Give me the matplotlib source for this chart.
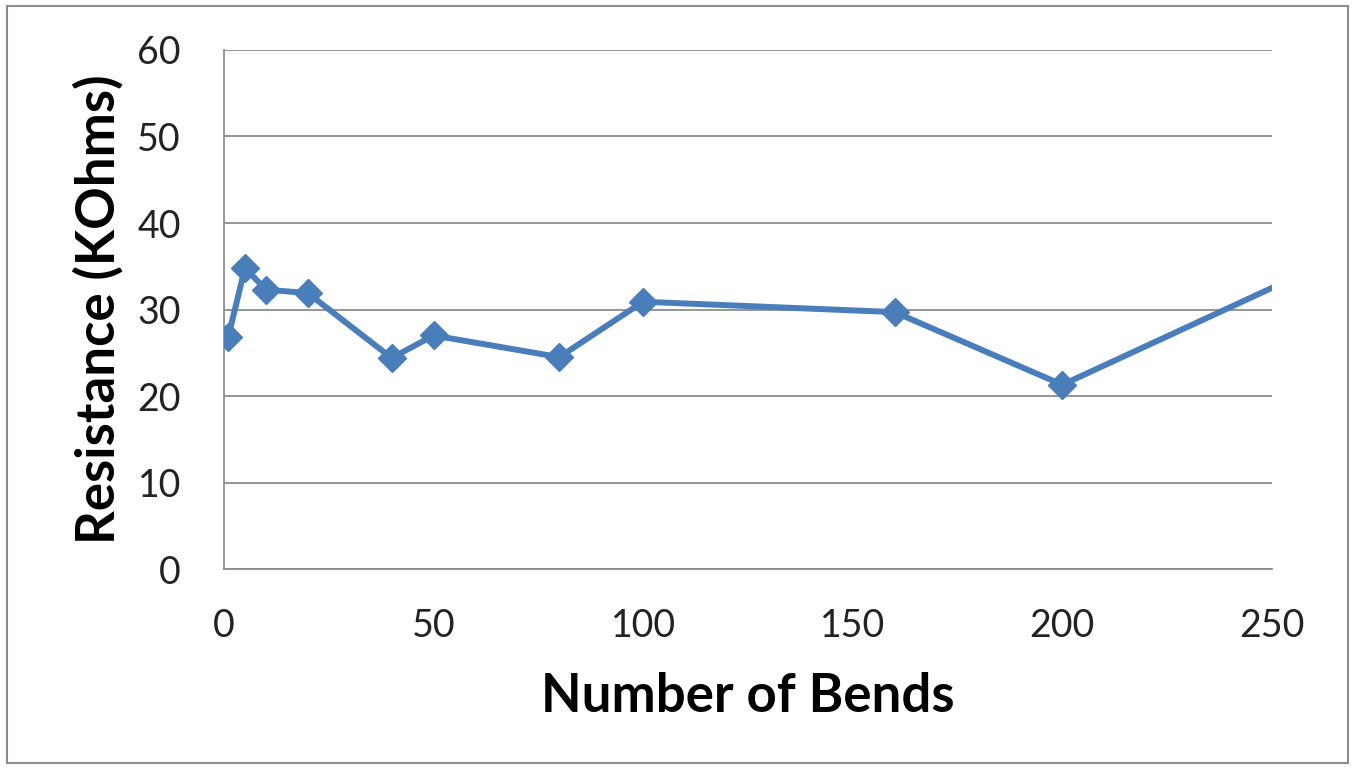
import matplotlib.pyplot as plt
from matplotlib.patches import Rectangle

# bends vs resistance, last point sits past the axis edge (only the line shows)
bends = [1, 5, 10, 20, 40, 50, 80, 100, 160, 200, 300]
resistanceKOhms = [26.8, 34.8, 32.3, 31.9, 24.4, 27.0, 24.5, 30.9, 29.7, 21.3, 43.7]

xTicks = [0, 50, 100, 150, 200, 250]
yTicks = [0, 10, 20, 30, 40, 50, 60]

plt.rcParams['font.family'] = ['Lato', 'DejaVu Sans']

fig = plt.figure(figsize=(13.55, 7.69), dpi=100)
ax = fig.add_axes([0.1653, 0.26, 0.7734, 0.675])

gridGray = "#8c8c8c"
ax.plot(bends, resistanceKOhms, color="#4a7ebb", lw=4.3, marker="D",
        ms=14, mfc="#4a7ebb", mec="#4a7ebb", clip_on=True, zorder=3)

ax.set_xlim(0, 250)
ax.set_ylim(0, 60)
ax.set_xticks(xTicks)
ax.set_yticks(yTicks)
ax.yaxis.grid(True, color=gridGray, lw=1.3)
ax.set_axisbelow(True)

for side in ["top", "right"]:
    ax.spines[side].set_visible(False)
for side in ["left", "bottom"]:
    ax.spines[side].set_color(gridGray)
    ax.spines[side].set_linewidth(1.3)

ax.tick_params(length=0, labelsize=27, colors="#222222")
ax.tick_params(axis="x", pad=28)
ax.tick_params(axis="y", pad=31)

ax.set_xlabel("Number of Bends", fontsize=38, fontweight="bold", labelpad=20)
ax.set_ylabel("Resistance (KOhms)", fontsize=38, fontweight="bold", labelpad=10)

# chart border like the spreadsheet frame
fig.patches.append(Rectangle((0.005, 0.008), 0.99, 0.984, transform=fig.transFigure,
                             fill=False, edgecolor="#8c8c8c", lw=1.5))

fig.savefig("out.png", dpi=100)
